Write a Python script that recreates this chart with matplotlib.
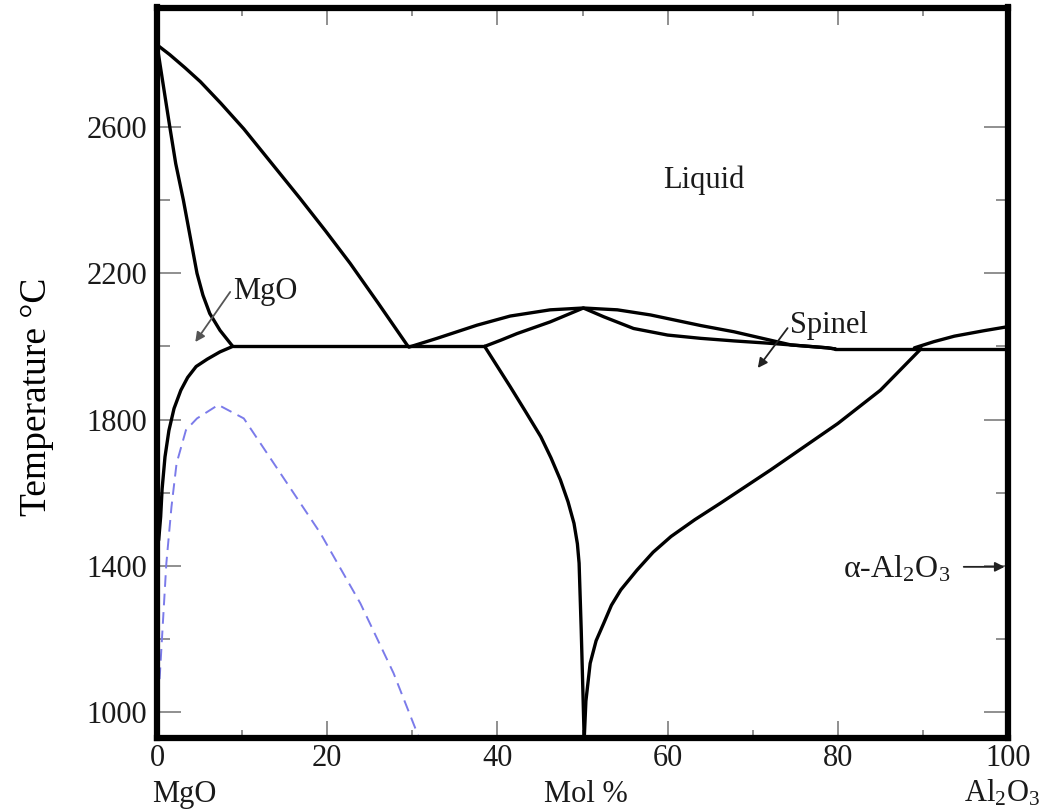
import matplotlib
matplotlib.use('Agg')
import matplotlib.pyplot as plt

plt.rcParams['font.family'] = ['Liberation Serif', 'DejaVu Serif']
plt.rcParams['mathtext.fontset'] = 'custom'
plt.rcParams['mathtext.rm'] = 'Liberation Serif'
plt.rcParams['mathtext.it'] = 'Liberation Serif:italic'

# ---------------- data (mol % Al2O3, temperature °C) ----------------
mgo_liquidus_x = [0, 1.5, 3.3, 5.1, 7.5, 10.2, 13.5, 16.8, 19.8, 22.7, 26.0, 29.5]
mgo_liquidus_t = [2825, 2798, 2762, 2724, 2665, 2595, 2500, 2405, 2316, 2227, 2118, 2000]

mgo_solidus_x = [0, 0.3, 0.7, 1.5, 2.2, 3.1, 3.9, 4.7, 5.4, 6.2, 7.4, 8.9]
mgo_solidus_t = [2825, 2780, 2720, 2601, 2500, 2400, 2300, 2200, 2140, 2090, 2044, 2000]

mgo_solvus_x = [8.9, 7.4, 5.9, 4.6, 3.6, 2.8, 2.0, 1.4, 0.94, 0.6, 0.43, 0.2]
mgo_solvus_t = [2000, 1985, 1965, 1945, 1915, 1880, 1830, 1770, 1698, 1610, 1534, 1470]

eutectic1_x = [8.9, 38.5]
eutectic1_t = [2000, 2000]

spinodal_x = [0.3, 0.35, 1.1, 1.7, 2.3, 3.4, 4.7, 7.2, 10.2, 14.5, 19.2, 23.9, 27.8, 30.8]
spinodal_t = [1090, 1107, 1407, 1561, 1680, 1771, 1803, 1840, 1803, 1653, 1489, 1297, 1106, 929]

spinel_liquidus_x = [29.6, 32.9, 37.6, 41.5, 46.2, 50.1, 54.1, 58.0, 63.9, 67.8, 71.7, 74.5, 78.8, 79.7]
spinel_liquidus_t = [1998, 2022, 2058, 2083, 2100, 2105, 2100, 2086, 2057, 2040, 2019, 2004, 1996, 1993]

spinel_solidus_x = [38.5, 40.4, 42.3, 46.2, 50.1, 52.5, 56.0, 60.0, 63.9, 67.8, 71.7, 74.5, 78.8, 79.7]
spinel_solidus_t = [2000, 2017, 2035, 2067, 2105, 2081, 2049, 2031, 2022, 2015, 2009, 2004, 1996, 1993]

eutectic2_x = [79.7, 100]
eutectic2_t = [1994, 1994]

al2o3_liquidus_x = [89.0, 91.3, 93.7, 97.2, 100]
al2o3_liquidus_t = [1996, 2013, 2028, 2043, 2054]

spinel_solvus_left_x = [38.5, 40.0, 41.5, 43.3, 45.1, 46.3, 47.4, 48.3, 49.0, 49.4, 49.6, 49.85, 50.2]
spinel_solvus_left_t = [2000, 1945, 1890, 1822, 1753, 1695, 1635, 1575, 1516, 1460, 1407, 1224, 925]

spinel_solvus_right_x = [50.2, 50.4, 50.9, 51.6, 52.5, 53.4, 54.5, 56.4, 58.3, 60.4, 63.2, 66.2, 72.1, 80.0, 85.0, 89.8]
spinel_solvus_right_t = [925, 1030, 1133, 1195, 1243, 1292, 1334, 1388, 1437, 1480, 1526, 1571, 1662, 1789, 1880, 1994]

x_ticks = [0, 20, 40, 60, 80, 100]
x_ticklabels = ['0', '20', '40', '60', '80', '100']
x_minor = [10, 30, 50, 70, 90]
y_ticks = [1000, 1400, 1800, 2200, 2600]
y_ticklabels = ['1000', '1400', '1800', '2200', '2600']
y_minor = [1200, 1600, 2000, 2400]

# ---------------- figure ----------------
W, H = 1044, 811
fig = plt.figure(figsize=(W / 100, H / 100), dpi=100)
ax = fig.add_axes([157 / W, 1 - 738.3 / H, 851 / W, 730.8 / H])
ax.set_xlim(0, 100)
ax.set_ylim(928, 2927)

lw = 2.4
black_curves = [
    (mgo_liquidus_x, mgo_liquidus_t),
    (mgo_solidus_x, mgo_solidus_t),
    (mgo_solvus_x, mgo_solvus_t),
    (eutectic1_x, eutectic1_t),
    (spinel_liquidus_x, spinel_liquidus_t),
    (spinel_solidus_x, spinel_solidus_t),
    (eutectic2_x, eutectic2_t),
    (al2o3_liquidus_x, al2o3_liquidus_t),
    (spinel_solvus_left_x, spinel_solvus_left_t),
    (spinel_solvus_right_x, spinel_solvus_right_t),
]
for xs, ts in black_curves:
    ax.plot(xs, ts, color='black', lw=lw, solid_joinstyle='round', solid_capstyle='round')

ax.plot(spinodal_x, spinodal_t, color='#7b7bea', lw=1.4, dashes=(6, 3.5))

# ---------------- axes styling ----------------
for s in ax.spines.values():
    s.set_linewidth(4.5)
    s.set_color('black')

ax.set_xticks(x_ticks)
ax.set_xticklabels(x_ticklabels)
ax.set_xticks(x_minor, minor=True)
ax.set_yticks(y_ticks)
ax.set_yticklabels(y_ticklabels)
ax.set_yticks(y_minor, minor=True)

tick_color = '#8f8f8f'
ax.tick_params(axis='both', which='both', direction='in', color=tick_color,
               top=True, right=True, labelsize=22, labelcolor='#1a1a1a')
ax.tick_params(axis='x', which='major', length=12, width=1.4, pad=4)
ax.tick_params(axis='x', which='minor', length=6, width=1.4)
ax.tick_params(axis='y', which='major', length=17, width=1.4, pad=7)
ax.tick_params(axis='y', which='minor', length=9, width=1.4)

ax.set_xlabel('Mol %', fontsize=22, color='#1a1a1a')
ax.xaxis.label.set_va('baseline')
ax.xaxis.set_label_coords((586 - 157) / 851, (738.3 - 802) / 730.8)

ax.set_ylabel('Temperature °C', fontsize=27, color='black')
ax.yaxis.label.set_va('center')
ax.yaxis.set_label_coords((37 - 157) / 851, (738.3 - 396.5) / 730.8)

# ---------------- annotations ----------------
tc = '#1a1a1a'
ax.text(64.2, 2433, 'Liquid', fontsize=22, color=tc, ha='center', va='baseline')
ax.text(8.9, 2130, 'MgO', fontsize=22, color=tc, ha='left', va='baseline')
ax.text(74.4, 2037, 'Spinel', fontsize=22, color=tc, ha='left', va='baseline')
ax.text(80.6, 1369, 'α-Al$_2$O$_3$', fontsize=23, color=tc, ha='left', va='baseline')
ax.text(3.2, 754, 'MgO', fontsize=22, color=tc, ha='center', va='baseline', clip_on=False)
ax.text(99.3, 754, 'Al$_2$O$_3$', fontsize=22, color=tc, ha='center', va='baseline', clip_on=False)

ax.annotate('', xy=(4.5, 2012), xytext=(8.6, 2149),
            arrowprops=dict(arrowstyle='-|>', color='#555555', lw=1.3, mutation_scale=14,
                            shrinkA=0, shrinkB=0))
ax.annotate('', xy=(70.6, 1941), xytext=(74.1, 2050),
            arrowprops=dict(arrowstyle='-|>', color='#222222', lw=1.3, mutation_scale=14,
                            shrinkA=0, shrinkB=0))
ax.annotate('', xy=(99.6, 1397), xytext=(94.8, 1397),
            arrowprops=dict(arrowstyle='-|>', color='#222222', lw=1.3, mutation_scale=14,
                            shrinkA=0, shrinkB=0))

fig.savefig('out.png', dpi=100)
